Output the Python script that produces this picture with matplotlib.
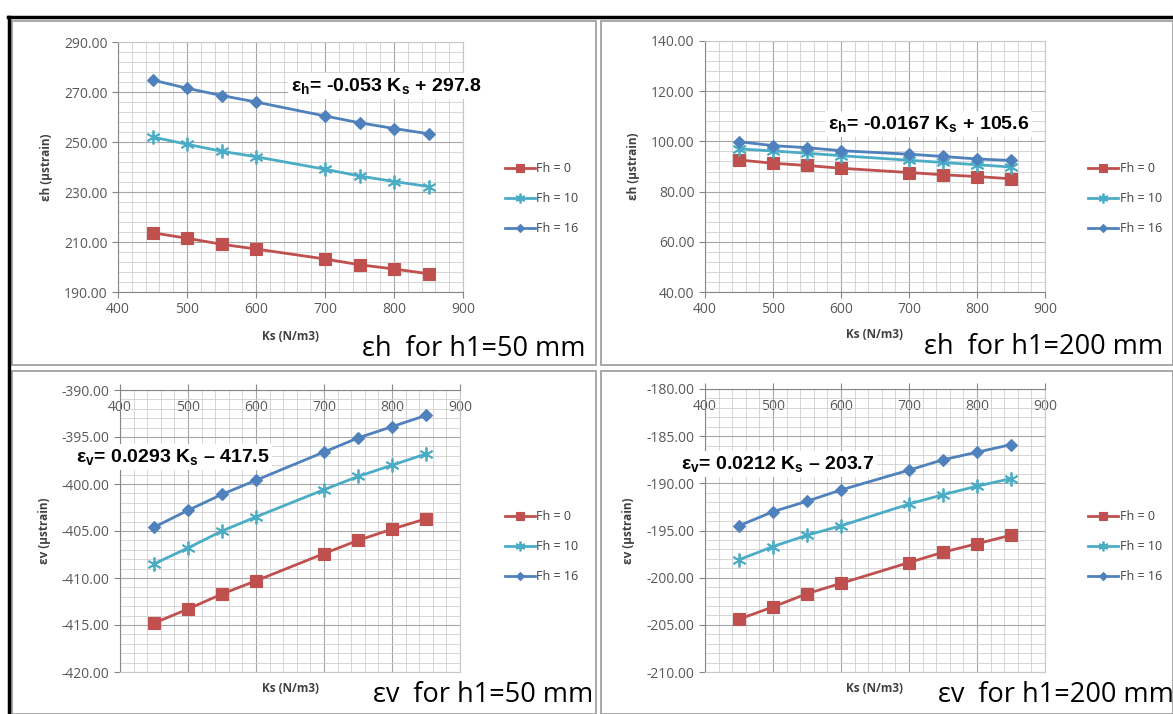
#Strain vs subgrade modulus, four panels

#importing the libraries
import numpy as np
import matplotlib
matplotlib.use('Agg')
import matplotlib.pyplot as plt
from matplotlib.ticker import FixedLocator, FormatStrFormatter
from matplotlib.patches import Rectangle
from matplotlib.lines import Line2D

plt.rcParams['mathtext.fontset'] = 'custom'
plt.rcParams['mathtext.rm'] = 'Liberation Sans:bold'
plt.rcParams['mathtext.bf'] = 'Liberation Sans:bold'
plt.rcParams['mathtext.it'] = 'Liberation Sans:bold'

#Data
ks = [450, 500, 550, 600, 700, 750, 800, 850]
series_labels = ['Fh = 0', 'Fh = 10', 'Fh = 16']

eh_50_fh0 = [213.7, 211.5, 209.1, 207.2, 203.2, 200.9, 199.2, 197.3]
eh_50_fh10 = [252.0, 249.1, 246.3, 244.1, 239.1, 236.4, 234.2, 232.2]
eh_50_fh16 = [274.8, 271.5, 268.6, 266.0, 260.4, 257.7, 255.4, 253.3]

eh_200_fh0 = [92.6, 91.3, 90.4, 89.3, 87.6, 86.7, 86.0, 85.1]
eh_200_fh10 = [97.0, 96.2, 95.3, 94.3, 92.5, 91.6, 90.7, 89.8]
eh_200_fh16 = [99.9, 98.3, 97.5, 96.3, 94.9, 94.0, 93.0, 92.4]

ev_50_fh0 = [-414.8, -413.3, -411.7, -410.3, -407.4, -406.0, -404.8, -403.7]
ev_50_fh10 = [-408.5, -406.8, -405.0, -403.5, -400.6, -399.2, -398.0, -396.8]
ev_50_fh16 = [-404.6, -402.8, -401.1, -399.6, -396.6, -395.1, -393.9, -392.7]

ev_200_fh0 = [-204.4, -203.1, -201.7, -200.6, -198.4, -197.3, -196.4, -195.5]
ev_200_fh10 = [-198.1, -196.7, -195.5, -194.5, -192.2, -191.2, -190.3, -189.5]
ev_200_fh16 = [-194.5, -193.0, -191.9, -190.7, -188.6, -187.5, -186.7, -185.9]

W, H = 1173, 714
fig = plt.figure(figsize=(W / 100, H / 100), dpi=100)
fig.patch.set_facecolor('white')

def px_rect(x0, y0, x1, y1):
    return [x0 / W, 1 - y1 / H, (x1 - x0) / W, (y1 - y0) / H]

#outer frame and panel borders
fig.add_artist(Line2D([8 / W, 1], [1 - 17 / H, 1 - 17 / H], color='black', lw=2.5))
fig.add_artist(Line2D([9 / W, 9 / W], [0, 1 - 17 / H], color='black', lw=2.5))
for (x0, y0, x1, y1) in [(12, 21, 596, 365), (601, 21, 1173, 365),
                         (12, 371, 596, 714), (601, 371, 1173, 714)]:
    fig.add_artist(Rectangle((x0 / W, 1 - y1 / H), (x1 - x0) / W, (y1 - y0) / H,
                             fill=False, edgecolor='#9a9a9a', lw=1.2))

colors = ['#C0504D', '#4BACC6', '#4F81BD']
markers = ['s', (6, 2, 0), 'D']
msizes = [8, 10, 6]
font = ['Open Sans', 'DejaVu Sans']

panels = [
    dict(rect=(118, 42, 463, 292), data=[eh_50_fh0, eh_50_fh10, eh_50_fh16],
         ylim=(190, 290), major=20, ylabel='εh (µstrain)', top=False,
         eq=r'ε$_\mathrm{h}$= -0.053 K$_\mathrm{s}$ + 297.8', eqpos=(291, 86),
         title='εh  for h1=50 mm', titlepos=(586, 349), xlabpos=(290, 336),
         legpos=(494, 151)),
    dict(rect=(705, 41, 1045, 292), data=[eh_200_fh0, eh_200_fh10, eh_200_fh16],
         ylim=(40, 140), major=20, ylabel='εh (µstrain)', top=False,
         eq=r'ε$_\mathrm{h}$= -0.0167 K$_\mathrm{s}$ + 105.6', eqpos=(828, 124),
         title='εh  for h1=200 mm', titlepos=(1163, 347), xlabpos=(874, 334),
         legpos=(1077, 151)),
    dict(rect=(120, 390, 460, 672), data=[ev_50_fh0, ev_50_fh10, ev_50_fh16],
         ylim=(-420, -390), major=5, ylabel='εv (µstrain)', top=True,
         eq=r'ε$_\mathrm{v}$= 0.0293 K$_\mathrm{s}$ – 417.5', eqpos=(76, 457),
         title='εv  for h1=50 mm', titlepos=(593, 695), xlabpos=(290, 688),
         legpos=(494, 499)),
    dict(rect=(705, 389, 1045, 672), data=[ev_200_fh0, ev_200_fh10, ev_200_fh16],
         ylim=(-210, -180), major=5, ylabel='εv (µstrain)', top=True,
         eq=r'ε$_\mathrm{v}$= 0.0212 K$_\mathrm{s}$ – 203.7', eqpos=(681, 464),
         title='εv  for h1=200 mm', titlepos=(1174, 695), xlabpos=(874, 688),
         legpos=(1077, 499)),
]

for p in panels:
    ax = fig.add_axes(px_rect(*p['rect']))
    handles = []
    for vals, c, m, ms, lab in zip(p['data'], colors, markers, msizes, series_labels):
        h, = ax.plot(ks, vals, color=c, lw=2, marker=m, markersize=ms,
                     markeredgecolor=c, markeredgewidth=1.3 if m == markers[1] else 0.8,
                     label=lab)
        handles.append(h)
    lo, hi = p['ylim']
    ax.set_xlim(400, 900)
    ax.set_ylim(lo, hi)
    ax.xaxis.set_major_locator(FixedLocator(np.arange(400, 901, 100)))
    ax.xaxis.set_minor_locator(FixedLocator(np.arange(400, 901, 20)))
    ax.yaxis.set_major_locator(FixedLocator(np.arange(lo, hi + 0.01, p['major'])))
    ax.yaxis.set_minor_locator(FixedLocator(np.arange(lo, hi + 0.01, p['major'] / 5)))
    ax.yaxis.set_major_formatter(FormatStrFormatter('%.2f'))
    ax.grid(which='major', color='#a6a6a6', lw=0.8)
    ax.grid(which='minor', color='#d0d0d0', lw=0.6)
    ax.set_axisbelow(True)
    for s in ax.spines.values():
        s.set_color('#c8c8c8')
        s.set_linewidth(0.8)
    ax.spines['left'].set_color('#868686')
    ax.tick_params(which='minor', length=0)
    ax.tick_params(which='major', colors='#868686', labelcolor='#595959',
                   labelsize=10, length=4)
    if p['top']:
        ax.spines['top'].set_color('#868686')
        ax.tick_params(axis='x', which='major', top=True, bottom=False,
                       labeltop=True, labelbottom=False, direction='out', pad=-22)
    else:
        ax.spines['bottom'].set_color('#868686')
    for lab in ax.get_xticklabels() + ax.get_yticklabels():
        lab.set_family(font)
    ax.set_ylabel(p['ylabel'], fontsize=8.5, fontweight='bold', color='#404040',
                  family=font, labelpad=8)

    fig.text(p['xlabpos'][0] / W, 1 - p['xlabpos'][1] / H, 'Ks (N/m3)',
             fontsize=8.5, fontweight='bold', color='#404040', ha='center', va='center',
             family=font)
    fig.text(p['eqpos'][0] / W, 1 - p['eqpos'][1] / H, p['eq'],
             fontsize=14, fontweight='bold', family='Liberation Sans', color='black',
             ha='left', va='center',
             bbox=dict(facecolor='white', edgecolor='none', pad=2))
    fig.text(p['titlepos'][0] / W, 1 - p['titlepos'][1] / H, p['title'],
             fontsize=19.5, color='black', ha='right', va='center', family=font)
    leg = fig.legend(handles=handles, loc='upper left',
                     bbox_to_anchor=(p['legpos'][0] / W, 1 - p['legpos'][1] / H),
                     frameon=False, handlelength=2.4, markerscale=0.7,
                     handletextpad=0.1, labelspacing=1.35,
                     prop=dict(family=font, size=9))
    for t in leg.get_texts():
        t.set_color('#404040')

fig.savefig('out.png', dpi=100, facecolor='white')
